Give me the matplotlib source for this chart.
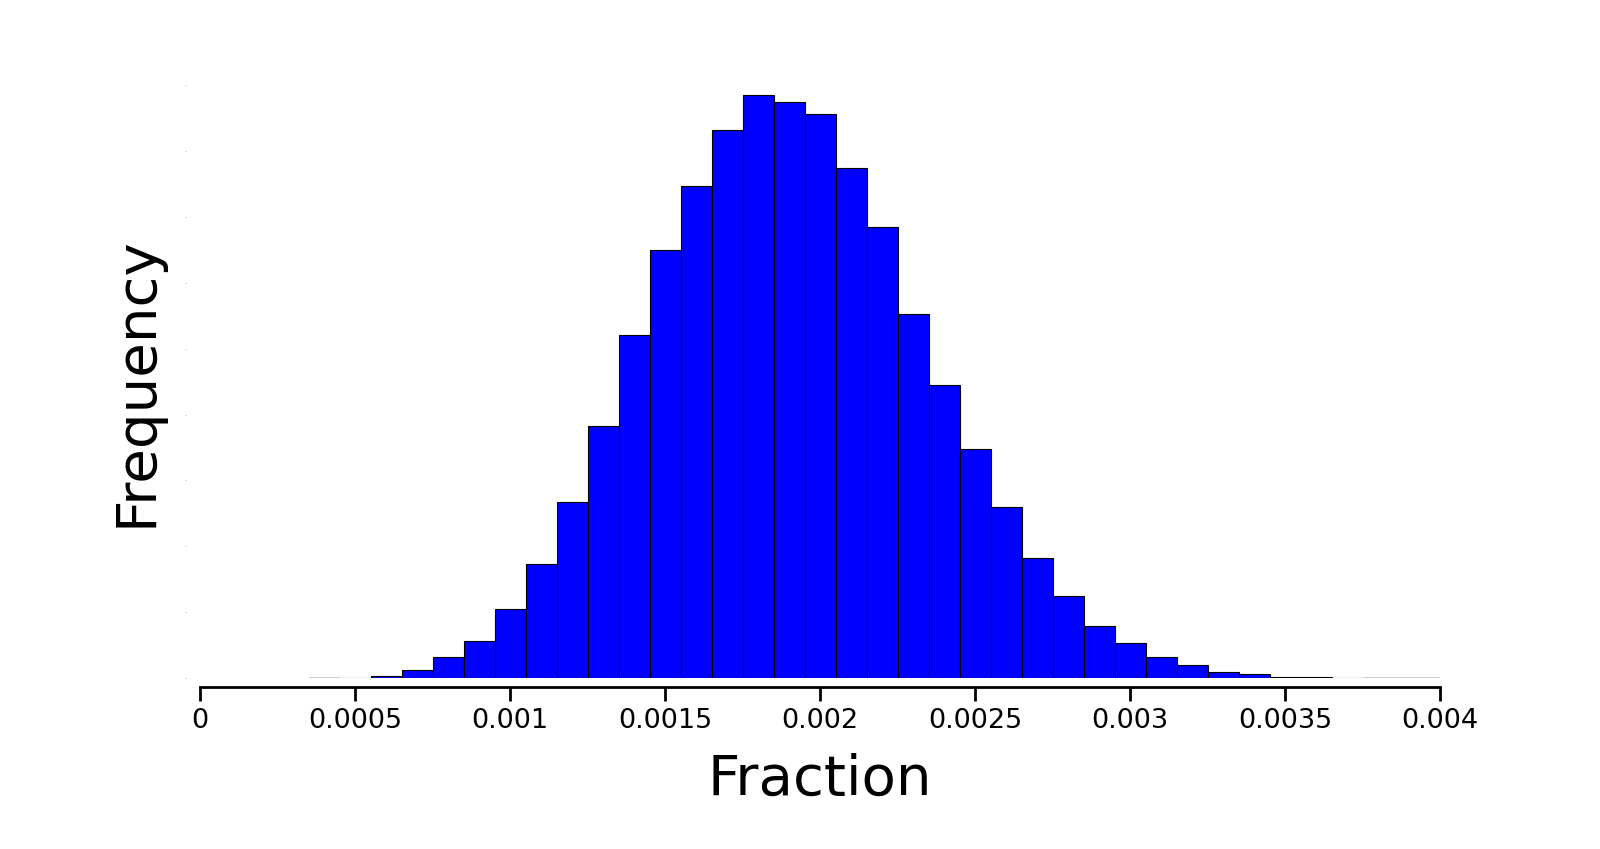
import numpy as np
import matplotlib
matplotlib.use('Agg')
import matplotlib.pyplot as plt

# Histogramme des fractions (largeur de classe 0.0001)
bin_left = np.arange(3.5, 40.5, 1.0) * 1e-4
bin_width = 1e-4
counts = [0, 10, 40, 130, 320, 570, 1050, 1730, 2680, 3820,
          5200, 6490, 7460, 8310, 8850, 8740, 8560, 7740, 6850, 5530,
          4440, 3470, 2590, 1830, 1250, 790, 530, 330, 197, 90,
          60, 25, 12, 6, 0, 0, 0]

xticks = [0, 0.0005, 0.001, 0.0015, 0.002, 0.0025, 0.003, 0.0035, 0.004]
xticklabels = ['0', '0.0005', '0.001', '0.0015', '0.002', '0.0025', '0.003', '0.0035', '0.004']
yticks = np.arange(0, 9001, 1000)

dpi = 100
fig = plt.figure(figsize=(16, 8.49), dpi=dpi)
ax = fig.add_axes([0.125, 0.2011, 0.775, 0.699])

nonzero = [c > 0 for c in counts]
edge = ['black' if nz else '#c8c8c8' for nz in nonzero]
lw = [0.8 if nz else 1.3 for nz in nonzero]
ax.bar(bin_left, counts, width=bin_width, align='edge', color='#0000ff',
       edgecolor=edge, linewidth=lw, clip_on=True)

ax.set_xlim(0, 0.004)
ax.set_ylim(0, 9000)
ax.set_xticks(xticks)
ax.set_xticklabels(xticklabels)
ax.set_yticks(yticks)
ax.set_yticklabels([])

# Axes "despinés" à la seaborn
for side in ['top', 'right', 'left']:
    ax.spines[side].set_visible(False)
ax.spines['left'].set_position(('outward', 14 * 72 / dpi))
ax.spines['bottom'].set_position(('outward', 9 * 72 / dpi))
ax.spines['bottom'].set_linewidth(2)

ax.tick_params(axis='x', direction='out', length=10, width=2, labelsize=19.5, pad=5)
ax.tick_params(axis='y', length=1, width=0.6, color='#aaaaaa')

ax.set_xlabel('Fraction', fontsize=40.5, labelpad=13.5)
ax.set_ylabel('Frequency', fontsize=40.5, labelpad=12)

fig.savefig('out.png', dpi=dpi)
plt.close(fig)
